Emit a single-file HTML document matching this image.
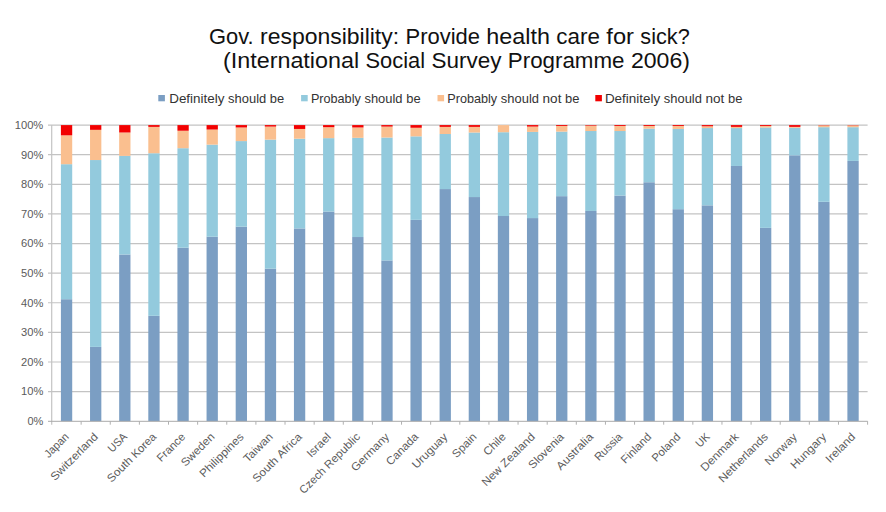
<!DOCTYPE html><html><head><meta charset="utf-8"><style>html,body{margin:0;padding:0;background:#fff;width:886px;height:512px;overflow:hidden}svg{display:block}text{font-family:"Liberation Sans",sans-serif}</style></head><body>
<svg width="886" height="512" viewBox="0 0 886 512">
<rect width="886" height="512" fill="#fff"/>
<line x1="48" y1="391.59" x2="867.60" y2="391.59" stroke="#c3c3c3" stroke-width="1.2"/>
<line x1="48" y1="361.98" x2="867.60" y2="361.98" stroke="#c3c3c3" stroke-width="1.2"/>
<line x1="48" y1="332.37" x2="867.60" y2="332.37" stroke="#c3c3c3" stroke-width="1.2"/>
<line x1="48" y1="302.76" x2="867.60" y2="302.76" stroke="#c3c3c3" stroke-width="1.2"/>
<line x1="48" y1="273.15" x2="867.60" y2="273.15" stroke="#c3c3c3" stroke-width="1.2"/>
<line x1="48" y1="243.54" x2="867.60" y2="243.54" stroke="#c3c3c3" stroke-width="1.2"/>
<line x1="48" y1="213.93" x2="867.60" y2="213.93" stroke="#c3c3c3" stroke-width="1.2"/>
<line x1="48" y1="184.32" x2="867.60" y2="184.32" stroke="#c3c3c3" stroke-width="1.2"/>
<line x1="48" y1="154.71" x2="867.60" y2="154.71" stroke="#c3c3c3" stroke-width="1.2"/>
<line x1="48" y1="125.10" x2="867.60" y2="125.10" stroke="#c3c3c3" stroke-width="1.2"/>
<rect x="60.91" y="299.21" width="11.30" height="121.99" fill="#7b9ec3"/>
<rect x="60.91" y="164.19" width="11.30" height="135.02" fill="#93cadd"/>
<rect x="60.91" y="135.32" width="11.30" height="28.87" fill="#fabf8f"/>
<rect x="60.91" y="125.10" width="11.30" height="10.22" fill="#f20000"/>
<rect x="90.04" y="346.88" width="11.30" height="74.32" fill="#7b9ec3"/>
<rect x="90.04" y="160.04" width="11.30" height="186.84" fill="#93cadd"/>
<rect x="90.04" y="129.84" width="11.30" height="30.20" fill="#fabf8f"/>
<rect x="90.04" y="125.10" width="11.30" height="4.74" fill="#f20000"/>
<rect x="119.17" y="254.50" width="11.30" height="166.70" fill="#7b9ec3"/>
<rect x="119.17" y="155.89" width="11.30" height="98.60" fill="#93cadd"/>
<rect x="119.17" y="132.50" width="11.30" height="23.39" fill="#fabf8f"/>
<rect x="119.17" y="125.10" width="11.30" height="7.40" fill="#f20000"/>
<rect x="148.30" y="315.79" width="11.30" height="105.41" fill="#7b9ec3"/>
<rect x="148.30" y="153.23" width="11.30" height="162.56" fill="#93cadd"/>
<rect x="148.30" y="126.88" width="11.30" height="26.35" fill="#fabf8f"/>
<rect x="148.30" y="125.10" width="11.30" height="1.78" fill="#f20000"/>
<rect x="177.43" y="247.69" width="11.30" height="173.51" fill="#7b9ec3"/>
<rect x="177.43" y="148.20" width="11.30" height="99.49" fill="#93cadd"/>
<rect x="177.43" y="130.73" width="11.30" height="17.47" fill="#fabf8f"/>
<rect x="177.43" y="125.10" width="11.30" height="5.63" fill="#f20000"/>
<rect x="206.56" y="236.73" width="11.30" height="184.47" fill="#7b9ec3"/>
<rect x="206.56" y="144.64" width="11.30" height="92.09" fill="#93cadd"/>
<rect x="206.56" y="129.54" width="11.30" height="15.10" fill="#fabf8f"/>
<rect x="206.56" y="125.10" width="11.30" height="4.44" fill="#f20000"/>
<rect x="235.69" y="226.66" width="11.30" height="194.54" fill="#7b9ec3"/>
<rect x="235.69" y="141.09" width="11.30" height="85.57" fill="#93cadd"/>
<rect x="235.69" y="127.47" width="11.30" height="13.62" fill="#fabf8f"/>
<rect x="235.69" y="125.10" width="11.30" height="2.37" fill="#f20000"/>
<rect x="264.81" y="268.71" width="11.30" height="152.49" fill="#7b9ec3"/>
<rect x="264.81" y="139.61" width="11.30" height="129.10" fill="#93cadd"/>
<rect x="264.81" y="126.58" width="11.30" height="13.03" fill="#fabf8f"/>
<rect x="264.81" y="125.10" width="11.30" height="1.48" fill="#f20000"/>
<rect x="293.94" y="228.44" width="11.30" height="192.76" fill="#7b9ec3"/>
<rect x="293.94" y="138.72" width="11.30" height="89.72" fill="#93cadd"/>
<rect x="293.94" y="128.95" width="11.30" height="9.77" fill="#fabf8f"/>
<rect x="293.94" y="125.10" width="11.30" height="3.85" fill="#f20000"/>
<rect x="323.07" y="211.56" width="11.30" height="209.64" fill="#7b9ec3"/>
<rect x="323.07" y="138.13" width="11.30" height="73.43" fill="#93cadd"/>
<rect x="323.07" y="127.17" width="11.30" height="10.96" fill="#fabf8f"/>
<rect x="323.07" y="125.10" width="11.30" height="2.07" fill="#f20000"/>
<rect x="352.20" y="237.03" width="11.30" height="184.17" fill="#7b9ec3"/>
<rect x="352.20" y="137.83" width="11.30" height="99.19" fill="#93cadd"/>
<rect x="352.20" y="127.47" width="11.30" height="10.36" fill="#fabf8f"/>
<rect x="352.20" y="125.10" width="11.30" height="2.37" fill="#f20000"/>
<rect x="381.33" y="260.42" width="11.30" height="160.78" fill="#7b9ec3"/>
<rect x="381.33" y="137.54" width="11.30" height="122.88" fill="#93cadd"/>
<rect x="381.33" y="126.58" width="11.30" height="10.96" fill="#fabf8f"/>
<rect x="381.33" y="125.10" width="11.30" height="1.48" fill="#f20000"/>
<rect x="410.46" y="219.85" width="11.30" height="201.35" fill="#7b9ec3"/>
<rect x="410.46" y="136.35" width="11.30" height="83.50" fill="#93cadd"/>
<rect x="410.46" y="127.76" width="11.30" height="8.59" fill="#fabf8f"/>
<rect x="410.46" y="125.10" width="11.30" height="2.66" fill="#f20000"/>
<rect x="439.59" y="189.06" width="11.30" height="232.14" fill="#7b9ec3"/>
<rect x="439.59" y="133.98" width="11.30" height="55.07" fill="#93cadd"/>
<rect x="439.59" y="126.88" width="11.30" height="7.11" fill="#fabf8f"/>
<rect x="439.59" y="125.10" width="11.30" height="1.78" fill="#f20000"/>
<rect x="468.71" y="197.05" width="11.30" height="224.15" fill="#7b9ec3"/>
<rect x="468.71" y="132.50" width="11.30" height="64.55" fill="#93cadd"/>
<rect x="468.71" y="126.88" width="11.30" height="5.63" fill="#fabf8f"/>
<rect x="468.71" y="125.10" width="11.30" height="1.78" fill="#f20000"/>
<rect x="497.84" y="216.00" width="11.30" height="205.20" fill="#7b9ec3"/>
<rect x="497.84" y="132.21" width="11.30" height="83.80" fill="#93cadd"/>
<rect x="497.84" y="125.10" width="11.30" height="7.11" fill="#fabf8f"/>
<rect x="526.97" y="218.08" width="11.30" height="203.12" fill="#7b9ec3"/>
<rect x="526.97" y="131.91" width="11.30" height="86.17" fill="#93cadd"/>
<rect x="526.97" y="126.58" width="11.30" height="5.33" fill="#fabf8f"/>
<rect x="526.97" y="125.10" width="11.30" height="1.48" fill="#f20000"/>
<rect x="556.10" y="196.16" width="11.30" height="225.04" fill="#7b9ec3"/>
<rect x="556.10" y="131.61" width="11.30" height="64.55" fill="#93cadd"/>
<rect x="556.10" y="125.99" width="11.30" height="5.63" fill="#fabf8f"/>
<rect x="556.10" y="125.10" width="11.30" height="0.89" fill="#f20000"/>
<rect x="585.23" y="210.97" width="11.30" height="210.23" fill="#7b9ec3"/>
<rect x="585.23" y="131.02" width="11.30" height="79.95" fill="#93cadd"/>
<rect x="585.23" y="125.69" width="11.30" height="5.33" fill="#fabf8f"/>
<rect x="585.23" y="125.10" width="11.30" height="0.59" fill="#f20000"/>
<rect x="614.36" y="195.57" width="11.30" height="225.63" fill="#7b9ec3"/>
<rect x="614.36" y="131.02" width="11.30" height="64.55" fill="#93cadd"/>
<rect x="614.36" y="125.99" width="11.30" height="5.03" fill="#fabf8f"/>
<rect x="614.36" y="125.10" width="11.30" height="0.89" fill="#f20000"/>
<rect x="643.49" y="182.25" width="11.30" height="238.95" fill="#7b9ec3"/>
<rect x="643.49" y="128.65" width="11.30" height="53.59" fill="#93cadd"/>
<rect x="643.49" y="125.99" width="11.30" height="2.66" fill="#fabf8f"/>
<rect x="643.49" y="125.10" width="11.30" height="0.89" fill="#f20000"/>
<rect x="672.61" y="209.19" width="11.30" height="212.01" fill="#7b9ec3"/>
<rect x="672.61" y="128.95" width="11.30" height="80.24" fill="#93cadd"/>
<rect x="672.61" y="125.99" width="11.30" height="2.96" fill="#fabf8f"/>
<rect x="672.61" y="125.10" width="11.30" height="0.89" fill="#f20000"/>
<rect x="701.74" y="205.34" width="11.30" height="215.86" fill="#7b9ec3"/>
<rect x="701.74" y="128.06" width="11.30" height="77.28" fill="#93cadd"/>
<rect x="701.74" y="126.28" width="11.30" height="1.78" fill="#fabf8f"/>
<rect x="701.74" y="125.10" width="11.30" height="1.18" fill="#f20000"/>
<rect x="730.87" y="165.96" width="11.30" height="255.24" fill="#7b9ec3"/>
<rect x="730.87" y="128.06" width="11.30" height="37.90" fill="#93cadd"/>
<rect x="730.87" y="126.88" width="11.30" height="1.18" fill="#fabf8f"/>
<rect x="730.87" y="125.10" width="11.30" height="1.78" fill="#f20000"/>
<rect x="760.00" y="227.85" width="11.30" height="193.35" fill="#7b9ec3"/>
<rect x="760.00" y="127.47" width="11.30" height="100.38" fill="#93cadd"/>
<rect x="760.00" y="125.99" width="11.30" height="1.48" fill="#fabf8f"/>
<rect x="760.00" y="125.10" width="11.30" height="0.89" fill="#f20000"/>
<rect x="789.13" y="155.30" width="11.30" height="265.90" fill="#7b9ec3"/>
<rect x="789.13" y="127.76" width="11.30" height="27.54" fill="#93cadd"/>
<rect x="789.13" y="126.88" width="11.30" height="0.89" fill="#fabf8f"/>
<rect x="789.13" y="125.10" width="11.30" height="1.78" fill="#f20000"/>
<rect x="818.26" y="201.79" width="11.30" height="219.41" fill="#7b9ec3"/>
<rect x="818.26" y="127.17" width="11.30" height="74.62" fill="#93cadd"/>
<rect x="818.26" y="125.40" width="11.30" height="1.78" fill="#fabf8f"/>
<rect x="818.26" y="125.10" width="11.30" height="0.30" fill="#f20000"/>
<rect x="847.39" y="160.93" width="11.30" height="260.27" fill="#7b9ec3"/>
<rect x="847.39" y="127.17" width="11.30" height="33.76" fill="#93cadd"/>
<rect x="847.39" y="125.40" width="11.30" height="1.78" fill="#fabf8f"/>
<rect x="847.39" y="125.10" width="11.30" height="0.30" fill="#f20000"/>
<line x1="51.70" y1="125.10" x2="51.70" y2="424.70" stroke="#c4c4c4" stroke-width="1.2"/>
<line x1="48" y1="421.30" x2="867.60" y2="421.30" stroke="#a9a9a9" stroke-width="1"/>
<line x1="81.13" y1="421.20" x2="81.13" y2="424.70" stroke="#b0b0b0" stroke-width="1"/>
<line x1="110.26" y1="421.20" x2="110.26" y2="424.70" stroke="#b0b0b0" stroke-width="1"/>
<line x1="139.39" y1="421.20" x2="139.39" y2="424.70" stroke="#b0b0b0" stroke-width="1"/>
<line x1="168.51" y1="421.20" x2="168.51" y2="424.70" stroke="#b0b0b0" stroke-width="1"/>
<line x1="197.64" y1="421.20" x2="197.64" y2="424.70" stroke="#b0b0b0" stroke-width="1"/>
<line x1="226.77" y1="421.20" x2="226.77" y2="424.70" stroke="#b0b0b0" stroke-width="1"/>
<line x1="255.90" y1="421.20" x2="255.90" y2="424.70" stroke="#b0b0b0" stroke-width="1"/>
<line x1="285.03" y1="421.20" x2="285.03" y2="424.70" stroke="#b0b0b0" stroke-width="1"/>
<line x1="314.16" y1="421.20" x2="314.16" y2="424.70" stroke="#b0b0b0" stroke-width="1"/>
<line x1="343.29" y1="421.20" x2="343.29" y2="424.70" stroke="#b0b0b0" stroke-width="1"/>
<line x1="372.41" y1="421.20" x2="372.41" y2="424.70" stroke="#b0b0b0" stroke-width="1"/>
<line x1="401.54" y1="421.20" x2="401.54" y2="424.70" stroke="#b0b0b0" stroke-width="1"/>
<line x1="430.67" y1="421.20" x2="430.67" y2="424.70" stroke="#b0b0b0" stroke-width="1"/>
<line x1="459.80" y1="421.20" x2="459.80" y2="424.70" stroke="#b0b0b0" stroke-width="1"/>
<line x1="488.93" y1="421.20" x2="488.93" y2="424.70" stroke="#b0b0b0" stroke-width="1"/>
<line x1="518.06" y1="421.20" x2="518.06" y2="424.70" stroke="#b0b0b0" stroke-width="1"/>
<line x1="547.19" y1="421.20" x2="547.19" y2="424.70" stroke="#b0b0b0" stroke-width="1"/>
<line x1="576.31" y1="421.20" x2="576.31" y2="424.70" stroke="#b0b0b0" stroke-width="1"/>
<line x1="605.44" y1="421.20" x2="605.44" y2="424.70" stroke="#b0b0b0" stroke-width="1"/>
<line x1="634.57" y1="421.20" x2="634.57" y2="424.70" stroke="#b0b0b0" stroke-width="1"/>
<line x1="663.70" y1="421.20" x2="663.70" y2="424.70" stroke="#b0b0b0" stroke-width="1"/>
<line x1="692.83" y1="421.20" x2="692.83" y2="424.70" stroke="#b0b0b0" stroke-width="1"/>
<line x1="721.96" y1="421.20" x2="721.96" y2="424.70" stroke="#b0b0b0" stroke-width="1"/>
<line x1="751.09" y1="421.20" x2="751.09" y2="424.70" stroke="#b0b0b0" stroke-width="1"/>
<line x1="780.21" y1="421.20" x2="780.21" y2="424.70" stroke="#b0b0b0" stroke-width="1"/>
<line x1="809.34" y1="421.20" x2="809.34" y2="424.70" stroke="#b0b0b0" stroke-width="1"/>
<line x1="838.47" y1="421.20" x2="838.47" y2="424.70" stroke="#b0b0b0" stroke-width="1"/>
<line x1="867.60" y1="421.20" x2="867.60" y2="424.70" stroke="#b0b0b0" stroke-width="1"/>
<text x="27.44" y="425.00" font-size="10.30" fill="#5a5a5a" textLength="15.86" lengthAdjust="spacingAndGlyphs">0%</text>
<text x="21.07" y="395.39" font-size="10.30" fill="#5a5a5a" textLength="22.23" lengthAdjust="spacingAndGlyphs">10%</text>
<text x="21.07" y="365.78" font-size="10.30" fill="#5a5a5a" textLength="22.23" lengthAdjust="spacingAndGlyphs">20%</text>
<text x="21.07" y="336.17" font-size="10.30" fill="#5a5a5a" textLength="22.23" lengthAdjust="spacingAndGlyphs">30%</text>
<text x="21.07" y="306.56" font-size="10.30" fill="#5a5a5a" textLength="22.23" lengthAdjust="spacingAndGlyphs">40%</text>
<text x="21.07" y="276.95" font-size="10.30" fill="#5a5a5a" textLength="22.23" lengthAdjust="spacingAndGlyphs">50%</text>
<text x="21.07" y="247.34" font-size="10.30" fill="#5a5a5a" textLength="22.23" lengthAdjust="spacingAndGlyphs">60%</text>
<text x="21.07" y="217.73" font-size="10.30" fill="#5a5a5a" textLength="22.23" lengthAdjust="spacingAndGlyphs">70%</text>
<text x="21.07" y="188.12" font-size="10.30" fill="#5a5a5a" textLength="22.23" lengthAdjust="spacingAndGlyphs">80%</text>
<text x="21.07" y="158.51" font-size="10.30" fill="#5a5a5a" textLength="22.23" lengthAdjust="spacingAndGlyphs">90%</text>
<text x="14.71" y="128.90" font-size="10.30" fill="#5a5a5a" textLength="28.59" lengthAdjust="spacingAndGlyphs">100%</text>
<text x="209.00" y="43.70" font-size="21.28" fill="#111111" textLength="44.60" lengthAdjust="spacingAndGlyphs">Gov.</text><text x="259.99" y="43.70" font-size="21.28" fill="#111111" textLength="139.11" lengthAdjust="spacingAndGlyphs">responsibility:</text><text x="405.49" y="43.70" font-size="21.28" fill="#111111" textLength="74.49" lengthAdjust="spacingAndGlyphs">Provide</text><text x="486.37" y="43.70" font-size="21.28" fill="#111111" textLength="63.63" lengthAdjust="spacingAndGlyphs">health</text><text x="556.38" y="43.70" font-size="21.28" fill="#111111" textLength="43.56" lengthAdjust="spacingAndGlyphs">care</text><text x="606.33" y="43.70" font-size="21.28" fill="#111111" textLength="27.64" lengthAdjust="spacingAndGlyphs">for</text><text x="640.36" y="43.70" font-size="21.28" fill="#111111" textLength="49.41" lengthAdjust="spacingAndGlyphs">sick?</text>
<text x="223.00" y="67.80" font-size="21.28" fill="#111111" textLength="136.13" lengthAdjust="spacingAndGlyphs">(International</text><text x="365.52" y="67.80" font-size="21.28" fill="#111111" textLength="59.59" lengthAdjust="spacingAndGlyphs">Social</text><text x="431.50" y="67.80" font-size="21.28" fill="#111111" textLength="69.92" lengthAdjust="spacingAndGlyphs">Survey</text><text x="507.81" y="67.80" font-size="21.28" fill="#111111" textLength="116.75" lengthAdjust="spacingAndGlyphs">Programme</text><text x="630.95" y="67.80" font-size="21.28" fill="#111111" textLength="58.99" lengthAdjust="spacingAndGlyphs">2006)</text>
<rect x="158.3" y="95.0" width="6.6" height="6.3" fill="#7b9ec3"/>
<text x="169.20" y="102.80" font-size="12.08" fill="#333333" textLength="55.24" lengthAdjust="spacingAndGlyphs">Definitely</text><text x="228.10" y="102.80" font-size="12.08" fill="#333333" textLength="38.10" lengthAdjust="spacingAndGlyphs">should</text><text x="269.85" y="102.80" font-size="12.08" fill="#333333" textLength="14.38" lengthAdjust="spacingAndGlyphs">be</text>
<rect x="301.1" y="95.0" width="6.6" height="6.3" fill="#93cadd"/>
<text x="310.90" y="102.80" font-size="12.08" fill="#333333" textLength="49.89" lengthAdjust="spacingAndGlyphs">Probably</text><text x="364.45" y="102.80" font-size="12.08" fill="#333333" textLength="38.10" lengthAdjust="spacingAndGlyphs">should</text><text x="406.20" y="102.80" font-size="12.08" fill="#333333" textLength="14.38" lengthAdjust="spacingAndGlyphs">be</text>
<rect x="437.5" y="95.0" width="6.6" height="6.3" fill="#fabf8f"/>
<text x="447.30" y="102.80" font-size="12.08" fill="#333333" textLength="49.89" lengthAdjust="spacingAndGlyphs">Probably</text><text x="500.85" y="102.80" font-size="12.08" fill="#333333" textLength="38.10" lengthAdjust="spacingAndGlyphs">should</text><text x="542.60" y="102.80" font-size="12.08" fill="#333333" textLength="18.83" lengthAdjust="spacingAndGlyphs">not</text><text x="565.09" y="102.80" font-size="12.08" fill="#333333" textLength="14.38" lengthAdjust="spacingAndGlyphs">be</text>
<rect x="595.3" y="95.0" width="6.6" height="6.3" fill="#f20000"/>
<text x="604.90" y="102.80" font-size="12.08" fill="#333333" textLength="55.24" lengthAdjust="spacingAndGlyphs">Definitely</text><text x="663.80" y="102.80" font-size="12.08" fill="#333333" textLength="38.10" lengthAdjust="spacingAndGlyphs">should</text><text x="705.55" y="102.80" font-size="12.08" fill="#333333" textLength="18.83" lengthAdjust="spacingAndGlyphs">not</text><text x="728.04" y="102.80" font-size="12.08" fill="#333333" textLength="14.38" lengthAdjust="spacingAndGlyphs">be</text>
<g transform="translate(69.56,437.50) rotate(-45)"><text x="-29.56" y="0.00" font-size="11.24" fill="#5c5c5c" textLength="29.56" lengthAdjust="spacingAndGlyphs">Japan</text></g>
<g transform="translate(98.69,437.50) rotate(-45)"><text x="-61.83" y="0.00" font-size="11.24" fill="#5c5c5c" textLength="61.83" lengthAdjust="spacingAndGlyphs">Switzerland</text></g>
<g transform="translate(127.82,437.50) rotate(-45)"><text x="-21.94" y="0.00" font-size="11.24" fill="#5c5c5c" textLength="21.94" lengthAdjust="spacingAndGlyphs">USA</text></g>
<g transform="translate(156.95,437.50) rotate(-45)"><text x="-64.23" y="0.00" font-size="11.24" fill="#5c5c5c" textLength="30.81" lengthAdjust="spacingAndGlyphs">South</text><text x="-30.05" y="0.00" font-size="11.24" fill="#5c5c5c" textLength="30.05" lengthAdjust="spacingAndGlyphs">Korea</text></g>
<g transform="translate(186.08,437.50) rotate(-45)"><text x="-35.25" y="0.00" font-size="11.24" fill="#5c5c5c" textLength="35.25" lengthAdjust="spacingAndGlyphs">France</text></g>
<g transform="translate(215.21,437.50) rotate(-45)"><text x="-41.89" y="0.00" font-size="11.24" fill="#5c5c5c" textLength="41.89" lengthAdjust="spacingAndGlyphs">Sweden</text></g>
<g transform="translate(244.34,437.50) rotate(-45)"><text x="-57.11" y="0.00" font-size="11.24" fill="#5c5c5c" textLength="57.11" lengthAdjust="spacingAndGlyphs">Philippines</text></g>
<g transform="translate(273.46,437.50) rotate(-45)"><text x="-36.04" y="0.00" font-size="11.24" fill="#5c5c5c" textLength="36.04" lengthAdjust="spacingAndGlyphs">Taiwan</text></g>
<g transform="translate(302.59,437.50) rotate(-45)"><text x="-64.41" y="0.00" font-size="11.24" fill="#5c5c5c" textLength="30.81" lengthAdjust="spacingAndGlyphs">South</text><text x="-30.23" y="0.00" font-size="11.24" fill="#5c5c5c" textLength="30.23" lengthAdjust="spacingAndGlyphs">Africa</text></g>
<g transform="translate(331.72,437.50) rotate(-45)"><text x="-28.97" y="0.00" font-size="11.24" fill="#5c5c5c" textLength="28.97" lengthAdjust="spacingAndGlyphs">Israel</text></g>
<g transform="translate(360.85,437.50) rotate(-45)"><text x="-80.71" y="0.00" font-size="11.24" fill="#5c5c5c" textLength="32.03" lengthAdjust="spacingAndGlyphs">Czech</text><text x="-45.31" y="0.00" font-size="11.24" fill="#5c5c5c" textLength="45.31" lengthAdjust="spacingAndGlyphs">Republic</text></g>
<g transform="translate(389.98,437.50) rotate(-45)"><text x="-48.72" y="0.00" font-size="11.24" fill="#5c5c5c" textLength="48.72" lengthAdjust="spacingAndGlyphs">Germany</text></g>
<g transform="translate(419.11,437.50) rotate(-45)"><text x="-40.33" y="0.00" font-size="11.24" fill="#5c5c5c" textLength="40.33" lengthAdjust="spacingAndGlyphs">Canada</text></g>
<g transform="translate(448.24,437.50) rotate(-45)"><text x="-45.05" y="0.00" font-size="11.24" fill="#5c5c5c" textLength="45.05" lengthAdjust="spacingAndGlyphs">Uruguay</text></g>
<g transform="translate(477.36,437.50) rotate(-45)"><text x="-29.62" y="0.00" font-size="11.24" fill="#5c5c5c" textLength="29.62" lengthAdjust="spacingAndGlyphs">Spain</text></g>
<g transform="translate(506.49,437.50) rotate(-45)"><text x="-26.53" y="0.00" font-size="11.24" fill="#5c5c5c" textLength="26.53" lengthAdjust="spacingAndGlyphs">Chile</text></g>
<g transform="translate(535.62,437.50) rotate(-45)"><text x="-69.66" y="0.00" font-size="11.24" fill="#5c5c5c" textLength="23.12" lengthAdjust="spacingAndGlyphs">New</text><text x="-43.17" y="0.00" font-size="11.24" fill="#5c5c5c" textLength="43.17" lengthAdjust="spacingAndGlyphs">Zealand</text></g>
<g transform="translate(564.75,437.50) rotate(-45)"><text x="-45.11" y="0.00" font-size="11.24" fill="#5c5c5c" textLength="45.11" lengthAdjust="spacingAndGlyphs">Slovenia</text></g>
<g transform="translate(593.88,437.50) rotate(-45)"><text x="-46.89" y="0.00" font-size="11.24" fill="#5c5c5c" textLength="46.89" lengthAdjust="spacingAndGlyphs">Australia</text></g>
<g transform="translate(623.01,437.50) rotate(-45)"><text x="-34.09" y="0.00" font-size="11.24" fill="#5c5c5c" textLength="34.09" lengthAdjust="spacingAndGlyphs">Russia</text></g>
<g transform="translate(652.14,437.50) rotate(-45)"><text x="-37.88" y="0.00" font-size="11.24" fill="#5c5c5c" textLength="37.88" lengthAdjust="spacingAndGlyphs">Finland</text></g>
<g transform="translate(681.26,437.50) rotate(-45)"><text x="-35.39" y="0.00" font-size="11.24" fill="#5c5c5c" textLength="35.39" lengthAdjust="spacingAndGlyphs">Poland</text></g>
<g transform="translate(710.39,437.50) rotate(-45)"><text x="-14.71" y="0.00" font-size="11.24" fill="#5c5c5c" textLength="14.71" lengthAdjust="spacingAndGlyphs">UK</text></g>
<g transform="translate(739.52,437.50) rotate(-45)"><text x="-48.72" y="0.00" font-size="11.24" fill="#5c5c5c" textLength="48.72" lengthAdjust="spacingAndGlyphs">Denmark</text></g>
<g transform="translate(768.65,437.50) rotate(-45)"><text x="-64.62" y="0.00" font-size="11.24" fill="#5c5c5c" textLength="64.62" lengthAdjust="spacingAndGlyphs">Netherlands</text></g>
<g transform="translate(797.78,437.50) rotate(-45)"><text x="-40.21" y="0.00" font-size="11.24" fill="#5c5c5c" textLength="40.21" lengthAdjust="spacingAndGlyphs">Norway</text></g>
<g transform="translate(826.91,437.50) rotate(-45)"><text x="-45.26" y="0.00" font-size="11.24" fill="#5c5c5c" textLength="45.26" lengthAdjust="spacingAndGlyphs">Hungary</text></g>
<g transform="translate(856.04,437.50) rotate(-45)"><text x="-36.66" y="0.00" font-size="11.24" fill="#5c5c5c" textLength="36.66" lengthAdjust="spacingAndGlyphs">Ireland</text></g>
</svg></body></html>
